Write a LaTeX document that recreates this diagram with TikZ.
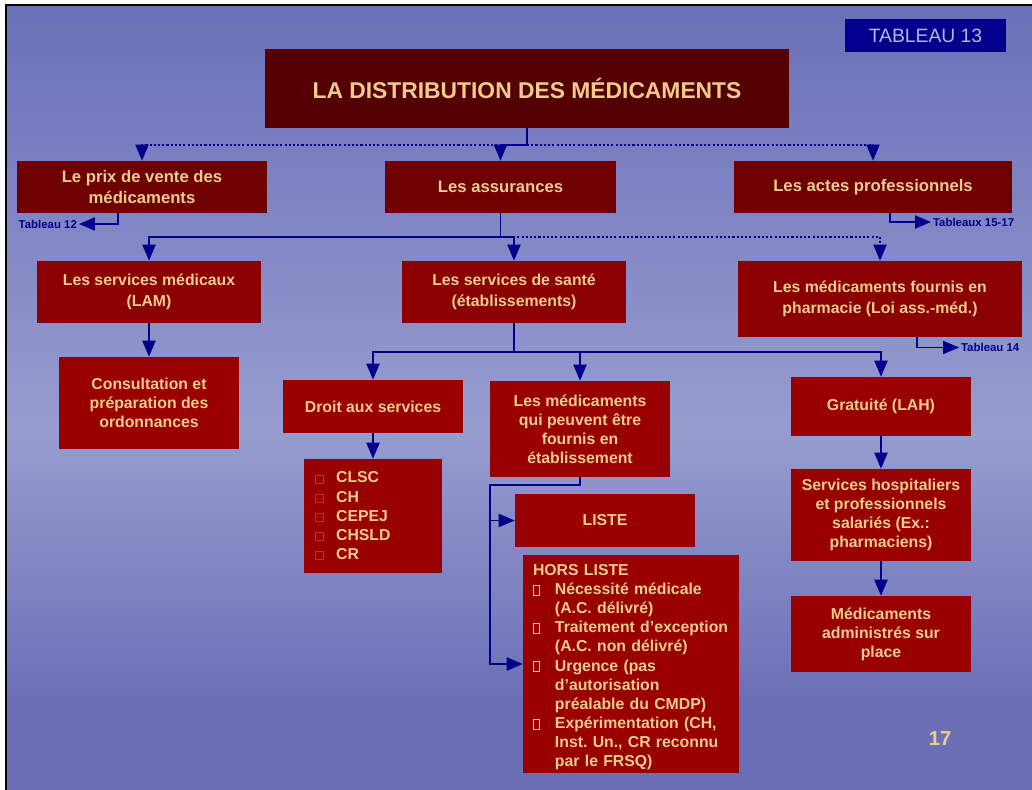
\documentclass[tikz,border=0pt]{standalone}
\usepackage{fontspec}
\setmainfont{Liberation Sans}
\usetikzlibrary{arrows}
\frenchspacing

\definecolor{bgtop}{RGB}{106,112,184}
\definecolor{bgmid}{RGB}{151,156,207}
\definecolor{bgbot}{RGB}{107,112,182}
\definecolor{labeltan}{RGB}{240,204,140}
\definecolor{linkblue}{RGB}{0,0,140}
\definecolor{redA}{RGB}{85,0,0}
\definecolor{redB}{RGB}{110,0,0}
\definecolor{redC}{RGB}{139,0,0}
\definecolor{redD}{RGB}{153,0,0}
\definecolor{sqred}{RGB}{180,56,34}
\definecolor{tabtxt}{RGB}{178,182,228}

\newcommand{\hlsq}{{\fboxsep=0pt\fboxrule=0.5pt\fbox{\rule{0pt}{5.2pt}\hspace{3pt}}}}
\newcommand{\hlbul}{\makebox[12.5pt][l]{\hlsq}}
\newcommand{\hlind}{\hspace*{12.5pt}}
\newcommand{\sqbul}{\makebox[12pt][l]{\textcolor{sqred}{\fboxsep=0pt\fboxrule=0.4pt\fbox{\rule{0pt}{4.2pt}\hspace{4.2pt}}}}}

\begin{document}
\begin{tikzpicture}[x=0.02cm, y=-0.02cm,
  box/.style={fill=redD, text=labeltan, font=\fontsize{9}{10.8}\selectfont\bfseries, align=center, inner sep=0pt},
  topbox/.style={box, fill=redB, font=\fontsize{9.5}{11.5}\selectfont\bfseries},
  midbox/.style={box, fill=redC, font=\fontsize{9}{11.8}\selectfont\bfseries},
  listbox/.style={box, align=left, font=\fontsize{9}{10.9}\selectfont\bfseries},
  link/.style={draw=linkblue, line width=1.1pt, -triangle 45},
  dlink/.style={link, dash pattern=on 1.2pt off 1.2pt},
  reflabel/.style={text=linkblue, font=\fontsize{6.5}{7}\selectfont\bfseries, inner sep=1pt}]

\useasboundingbox (0,0) rectangle (1032,790);
\fill[white] (0,0) rectangle (1032,790);
\shade[top color=bgtop, bottom color=bgmid] (6,6) rectangle (1032,430);
\shade[top color=bgmid, bottom color=bgbot] (6,430) rectangle (1032,700);
\fill[bgbot] (6,700) rectangle (1032,790);
\draw[line width=1.2pt] (6,790)--(6,5)--(1032,5);

% boxes
\node[box, fill=linkblue, text=tabtxt, font=\fontsize{11}{13}\selectfont, minimum width=3.22cm, minimum height=0.66cm] (tab13) at (925.5,35.5) {TABLEAU 13};
\node[box, fill=redA, font=\fontsize{13}{15}\selectfont\bfseries, minimum width=10.48cm, minimum height=1.58cm] (title) at (527,88.5) {LA DISTRIBUTION DES MÉDICAMENTS};

\node[topbox, minimum width=5cm, minimum height=1.04cm] (prix) at (142,187) {Le prix de vente des\\médicaments};
\node[topbox, minimum width=4.62cm, minimum height=1.04cm] (assur) at (500.5,187) {Les assurances};
\node[topbox, minimum width=5.56cm, minimum height=1.04cm] (actes) at (873,187) {Les actes professionnels};

\node[midbox, minimum width=4.48cm, minimum height=1.24cm] (smed) at (149,292) {Les services médicaux\\(LAM)};
\node[midbox, minimum width=4.48cm, minimum height=1.24cm] (sante) at (514,292) {Les services de santé\\(établissements)};
\node[midbox, minimum width=5.68cm, minimum height=1.52cm] (pharm) at (880,299) {Les médicaments fournis en\\pharmacie (Loi ass.-méd.)};

\node[box, minimum width=3.6cm, minimum height=1.84cm] (consult) at (149,403) {Consultation et\\préparation des\\ordonnances};
\node[box, minimum width=3.6cm, minimum height=1.06cm] (droit) at (373,406.5) {Droit aux services};
\node[box, minimum width=3.6cm, minimum height=1.92cm] (etab) at (580,429) {Les médicaments\\qui peuvent être\\fournis en\\établissement};
\node[box, minimum width=3.6cm, minimum height=1.18cm] (grat) at (881,406.5) {Gratuité (LAH)};

\node[listbox, inner xsep=6.2pt, text width=2.32cm, minimum height=2.28cm] (clsc) at (373,516)
  {\sqbul CLSC\\\sqbul CH\\\sqbul CEPEJ\\\sqbul CHSLD\\\sqbul CR};
\node[box, minimum width=3.6cm, minimum height=1.06cm] (liste) at (605,520.5) {LISTE};
\node[listbox, inner xsep=5.67pt, text width=3.92cm, minimum height=4.36cm] (hors) at (631,664)
  {\rule{0pt}{10pt}HORS LISTE\\
   \hlbul Nécessité médicale\\
   \hlind (A.C. délivré)\\
   \hlbul Traitement d’exception\\
   \hlind (A.C. non délivré)\\
   \hlbul Urgence (pas\\
   \hlind d’autorisation\\
   \hlind préalable du CMDP)\\
   \hlbul Expérimentation (CH,\\
   \hlind Inst. Un., CR reconnu\\
   \hlind par le FRSQ)};

\node[box, minimum width=3.6cm, minimum height=1.84cm] (hosp) at (881,515) {Services hospitaliers\\et professionnels\\salariés (Ex.:\\pharmaciens)};
\node[box, minimum width=3.6cm, minimum height=1.52cm] (admin) at (881,634) {Médicaments\\administrés sur\\place};

\node[text=labeltan, font=\fontsize{11.5}{13}\selectfont\bfseries] (pagenum) at (940,739) {17};

% references to other tables
\node[reflabel, anchor=east] (t12) at (79,224) {Tableau 12};
\node[reflabel, anchor=west] (t15) at (931,222) {Tableaux 15-17};
\node[reflabel, anchor=west] (t14) at (959,347.5) {Tableau 14};
\coordinate (p12) at (118,213);
\coordinate (p15) at (890,213);
\coordinate (p14) at (917,337);
\draw[link] (p12) |- (t12.east);
\draw[link] (p15) |- (t15.west);
\draw[link] (p14) |- (t14.west);

% connectors
\coordinate (jt) at (527,145);
\draw[dlink] (jt) -| (prix.north);
\draw[dlink] (jt) -| (actes.north);
\draw[link] (title.south) -- (jt) -| (assur.north);

\coordinate (ja) at (500.5,237);
\draw[dlink] (ja) -| (pharm.north);
\draw[link] (assur.south) -- (ja) -| (smed.north);
\draw[link] (ja) -| (sante.north);
\draw[link] (smed.south) -- (consult.north);

\coordinate (js) at (514,352);
\draw[link] (sante.south) -- (js) -| (droit.north);
\draw[link] (js) -| (etab.north);
\draw[link] (js) -| (grat.north);
\draw[link] (droit.south) -- (clsc.north);

\coordinate (je) at (490,485);
\draw[link] (etab.south) |- (je) |- (hors.west);
\draw[link] (je) |- (liste.west);

\draw[link] (grat.south) -- (hosp.north);
\draw[link] (hosp.south) -- (admin.north);

\end{tikzpicture}
\end{document}
